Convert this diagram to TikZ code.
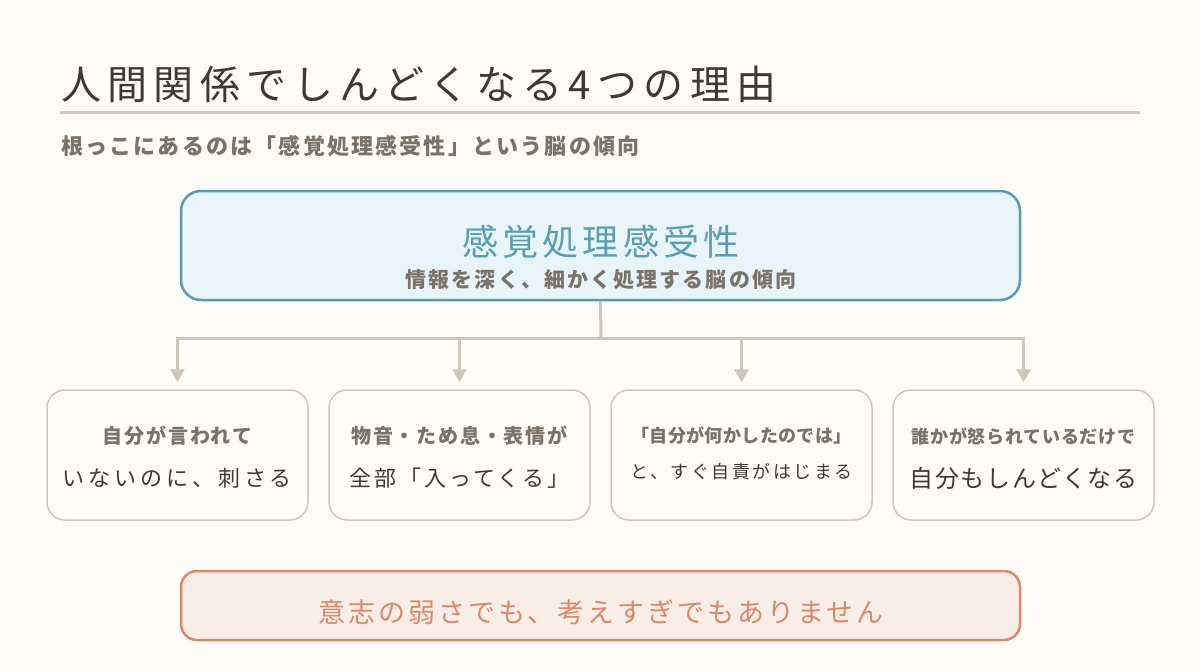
\documentclass[tikz,border=0pt]{standalone}
\usepackage{fontspec}
\setmainfont{Noto Sans CJK JP}
\usetikzlibrary{arrows.meta}
\definecolor{bg}{HTML}{FDFCF8}
\definecolor{ink}{HTML}{3D3A36}
\definecolor{rulec}{HTML}{CFC9BF}
\definecolor{subc}{HTML}{7A736B}
\definecolor{mainfill}{HTML}{E8F4F8}
\definecolor{mainline}{HTML}{5B9AB0}
\definecolor{maintext}{HTML}{5B9DB2}
\definecolor{connc}{HTML}{CDC6BB}
\definecolor{boxline}{HTML}{CDC7BD}
\definecolor{boxfill}{HTML}{FDFCF9}
\definecolor{warnfill}{HTML}{F9EDE8}
\definecolor{warnline}{HTML}{D98A6A}
\newcommand\spaced[2]{{\addfontfeatures{LetterSpace=#1}#2}}
\newcommand\fsz[1]{\fontsize{#1pt}{#1pt}\selectfont}
\begin{document}
\begin{tikzpicture}[x=1pt,y=-1pt,
  txt/.style={inner sep=0pt,outer sep=0pt},
  reasonbox/.style={draw=boxline,line width=1.5pt,fill=boxfill,rounded corners=18pt,
    minimum width=261pt,minimum height=130pt,inner sep=0pt},
  conn/.style={draw=connc,line width=3pt},
  arr/.style={conn,-{Triangle[width=14pt,length=13pt]},shorten >=7pt},
  boldline/.style={txt,text=subc,font=\fsz{20}\bfseries},
  plainline/.style={txt,text=ink,font=\fsz{22}}]
\fill[bg] (0,0) rectangle (1200,672);
\useasboundingbox (0,0) rectangle (1200,672);
% title
\node[txt,anchor=west,text=ink,font=\fsz{40}] (title) at (61,84) {\spaced{16}{人間関係でしんどくなる4つの理由}};
\coordinate (rl) at (60,112);
\coordinate (rr) at (1140,112);
\draw[rulec,line width=3pt] (rl) -- (rr);
\node[txt,anchor=west,text=subc,font=\fsz{22}\bfseries] (subtitle) at (61,146) {\spaced{10}{根っこにあるのは「感覚処理感受性」という脳の傾向}};
% main box
\node[draw=mainline,line width=2.5pt,fill=mainfill,rounded corners=20pt,
  minimum width=839pt,minimum height=109pt,inner sep=0pt] (main) at (600.5,245.5) {};
\node[txt,text=maintext,font=\fsz{36}] (maintitle) at (601,242) {\spaced{12}{感覚処理感受性}};
\node[txt,text=subc,font=\fsz{21}\bfseries] (mainsub) at (601,280) {\spaced{10}{情報を深く、細かく処理する脳の傾向}};
% boxes
\node[reasonbox] (b1) at (177.5,455) {};
\node[reasonbox] (b2) at (459.5,455) {};
\node[reasonbox] (b3) at (741.5,455) {};
\node[reasonbox] (b4) at (1023.5,455) {};
% connectors
\coordinate (j) at (601,338);
\coordinate (h1) at (177.5,338);
\coordinate (h2) at (459.5,338);
\coordinate (h3) at (741.5,338);
\coordinate (h4) at (1023.5,338);
\draw[conn] (main.south) -- (j);
\draw[conn,line cap=rect] (h1) -- (h4);
\draw[arr] (h1) -- (b1.north);
\draw[arr] (h2) -- (b2.north);
\draw[arr] (h3) -- (b3.north);
\draw[arr] (h4) -- (b4.north);
% box texts
\node[boldline] (b1a) at (177.5,436) {\spaced{9}{自分が言われて}};
\node[plainline] (b1b) at (177.5,478) {\spaced{18}{いないのに、刺さる}};
\node[boldline] (b2a) at (459.5,436) {\spaced{9}{物音・ため息・表情が}};
\node[plainline] (b2b) at (459.5,478) {\spaced{14}{全部「入ってくる」}};
\node[boldline,font=\fsz{18}\bfseries] (b3a) at (741.5,436) {\spaced{2}{「自分が何かしたのでは」}};
\node[plainline,font=\fsz{18}] (b3b) at (741.5,472) {\spaced{14}{と、すぐ自責がはじまる}};
\node[boldline,font=\fsz{18}\bfseries] (b4a) at (1023.5,436) {\spaced{4}{誰かが怒られているだけで}};
\node[plainline,font=\fsz{24}] (b4b) at (1023.5,478) {\spaced{7}{自分もしんどくなる}};
% bottom box
\node[draw=warnline,line width=2.5pt,fill=warnfill,rounded corners=16pt,
  minimum width=839pt,minimum height=69pt,inner sep=0pt] (warn) at (600.5,605.5) {};
\node[txt,text=warnline,font=\fsz{27}] (warntext) at (601,612) {\spaced{11}{意志の弱さでも、考えすぎでもありません}};
\end{tikzpicture}
\end{document}
